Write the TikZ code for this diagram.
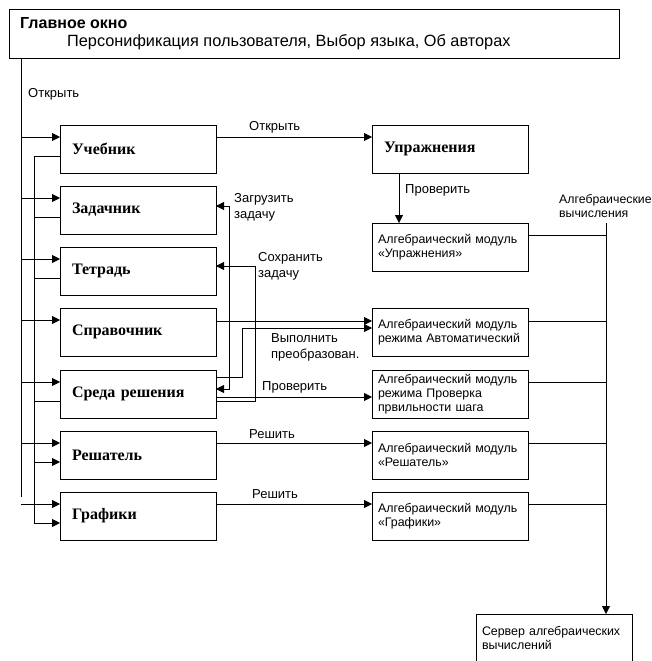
\documentclass[tikz,border=0pt]{standalone}
\usepackage{fontspec}
\setmainfont{Liberation Serif}
\setsansfont{Liberation Sans}
\usetikzlibrary{arrows.meta,calc}
\begin{document}
\begin{tikzpicture}[x=1pt,y=-1pt,
  ln/.style={line width=0.8pt},
  arr/.style={ln,-{Triangle[length=8pt,width=8pt]}},
  dbl/.style={ln,{Triangle[length=8pt,width=8pt]}-{Triangle[length=8pt,width=8pt]}},
  box/.style={draw,ln,rectangle,minimum height=48pt,outer sep=0pt,anchor=north west,align=left},
  lbox/.style={box,text width=132pt,inner xsep=12pt,font=\rmfamily\bfseries\fontsize{16}{18}\selectfont},
  mbox/.style={box,text width=144pt,inner xsep=6pt,font=\sffamily\fontsize{12.4}{14}\selectfont},
  lbl/.style={font=\sffamily\fontsize{13}{16}\selectfont,inner sep=0pt,align=left,anchor=north west},
]
\useasboundingbox (0,0) rectangle (652,661);
% main window
\node[draw,ln,rectangle,anchor=north west,minimum width=610pt,minimum height=49pt,outer sep=0pt] (main) at (9,9) {};
\node[font=\sffamily\bfseries\fontsize{16}{18}\selectfont,anchor=base west,inner sep=0pt] (mtitle) at (20,29) {Главное окно};
\node[font=\sffamily\fontsize{16.3}{18}\selectfont,anchor=base west,inner sep=0pt] (msub) at (67,47) {Персонификация пользователя, Выбор языка, Об авторах};
% left boxes
\node[lbox] (ucheb) at (60,125) {Учебник};
\node[lbox] (zad) at (60,186) {Задачник};
\node[lbox] (tetr) at (60,247) {Тетрадь};
\node[lbox] (sprav) at (60,308) {Справочник};
\node[lbox] (sreda) at (60,370) {Среда решения};
\node[lbox] (resh) at (60,431) {Решатель};
\node[lbox] (graf) at (60,492) {Графики};
% right boxes
\node[lbox] (upr) at (372,125) {Упражнения};
\node[mbox] (m1) at (372,223) {Алгебраический модуль\\«Упражнения»};
\node[mbox] (avt) at (372,308) {Алгебраический модуль\\режима Автоматический};
\node[mbox] (prov) at (372,370) {Алгебраический модуль\\режима Проверка\\првильности шага};
\node[mbox] (rmod) at (372,431) {Алгебраический модуль\\«Решатель»};
\node[mbox] (gmod) at (372,492) {Алгебраический модуль\\«Графики»};
\node[mbox,minimum height=49pt] (srv) at (476,614) {Сервер алгебраических\\вычислений};
% left buses
\coordinate (o) at ([xshift=12pt]main.south west);
\coordinate (ib) at (34,0);
\foreach \n in {ucheb,zad,tetr,sprav,sreda,resh,graf}{
  \coordinate (\n-a) at ([yshift=-12pt]\n.north west);
  \coordinate (\n-b) at ([yshift=-31pt]\n.north west);
}
\draw[ln] (o) -- (o |- 0,497);
\foreach \n in {ucheb,zad,tetr,sprav,sreda,resh,graf}
  \draw[arr] (o |- \n-a) -- (\n-a);
\draw[ln] (ucheb-b -| ib) -- (graf-b -| ib);
\foreach \n in {ucheb,zad,tetr,sreda}
  \draw[ln] (\n-b) -- (\n-b -| ib);
\foreach \n in {resh,graf}
  \draw[arr] (\n-b -| ib) -- (\n-b);
% right connectors
\draw[arr] ([yshift=-12pt]ucheb.north east) -- ([yshift=-12pt]upr.north west);
\draw[arr] ([xshift=27pt]upr.south west) -- ([xshift=27pt]m1.north west);
\draw[arr] ([yshift=-13pt]sprav.north east) -- ([yshift=-13pt]avt.north west);
\draw[arr] ([yshift=-7pt]sreda.north east) -- ++(26,0) |- ([yshift=-20pt]avt.north west);
\draw[arr] ([yshift=-27pt]sreda.north east) -- ([yshift=-27pt]prov.north west);
\draw[dbl] ([yshift=-20pt]zad.north east) -- ++(13,0) |- ([yshift=-19pt]sreda.north east);
\draw[arr] ([yshift=-31pt]sreda.north east) -- ++(39,0) |- ([yshift=-19pt]tetr.north east);
\draw[arr] ([yshift=-12pt]resh.north east) -- ([yshift=-12pt]rmod.north west);
\draw[arr] ([yshift=-12pt]graf.north east) -- ([yshift=-12pt]gmod.north west);
% right bus
\coordinate (bus) at (606,223);
\draw[arr] (bus) -- (bus |- srv.north);
\foreach \m/\d in {m1/12,avt/13,prov/12,rmod/12,gmod/12}{
  \coordinate (t) at ([yshift=-\d pt]\m.north east);
  \draw[ln] (t) -- (t -| bus);
}
% labels
\node[lbl] (l1) at (28,88) {Открыть};
\node[lbl] (l2) at (249,121) {Открыть};
\node[lbl] (l3) at (405,184) {Проверить};
\node[lbl] (l4) at (234,193) {Загрузить\\задачу};
\node[lbl] (l5) at (258,252) {Сохранить\\задачу};
\node[lbl] (l6) at (271,333) {Выполнить\\преобразован.};
\node[lbl] (l7) at (262,381) {Проверить};
\node[lbl] (l8) at (249,429) {Решить};
\node[lbl] (l9) at (252,489) {Решить};
\node[lbl,font=\sffamily\fontsize{12.3}{14}\selectfont] (l10) at (559,194) {Алгебраические\\вычисления};
\end{tikzpicture}
\end{document}
